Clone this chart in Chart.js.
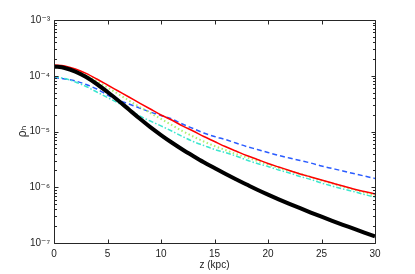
<!DOCTYPE html>
<html><head><meta charset="utf-8">
<script src="https://cdn.jsdelivr.net/npm/chart.js@4/dist/chart.umd.min.js"></script>
<style>html,body{margin:0;padding:0;background:#fff;}#wrap{width:415px;height:274px;}</style>
</head><body><div id="wrap"><canvas id="c" width="415" height="274"></canvas></div>
<script>
const zValues = [0,1,2,3,4,5,6,7,8,9,10,11,12,13,14,15,16,17,18,19,20,21,22,23,24,25,26,27,28,29,30];
const rhoBlack = [1.47e-4,1.38e-4,1.19e-4,9.50e-5,7.11e-5,5.11e-5,3.60e-5,2.48e-5,1.71e-5,1.20e-5,8.65e-6,6.35e-6,4.76e-6,3.64e-6,2.81e-6,2.21e-6,1.74e-6,1.39e-6,1.12e-6,9.04e-7,7.38e-7,6.08e-7,5.05e-7,4.21e-7,3.52e-7,2.96e-7,2.50e-7,2.12e-7,1.81e-7,1.54e-7,1.32e-7];
const rhoRed = [1.56e-4,1.50e-4,1.32e-4,1.10e-4,8.74e-5,6.83e-5,5.33e-5,4.16e-5,3.24e-5,2.53e-5,1.98e-5,1.61e-5,1.26e-5,1.02e-5,8.13e-6,6.62e-6,5.38e-6,4.47e-6,3.71e-6,3.15e-6,2.67e-6,2.31e-6,2.00e-6,1.73e-6,1.53e-6,1.35e-6,1.19e-6,1.05e-6,9.30e-7,8.39e-7,7.57e-7];
const rhoBlue = [9.30e-5,8.74e-5,8.05e-5,6.97e-5,5.79e-5,4.52e-5,3.67e-5,3.11e-5,2.64e-5,2.24e-5,1.94e-5,1.68e-5,1.36e-5,1.13e-5,9.40e-6,8.13e-6,7.19e-6,6.22e-6,5.38e-6,4.76e-6,4.20e-6,3.71e-6,3.35e-6,3.02e-6,2.72e-6,2.40e-6,2.17e-6,1.96e-6,1.76e-6,1.59e-6,1.44e-6];
const rhoCyan = [9.69e-5,8.93e-5,7.73e-5,6.42e-5,5.11e-5,4.07e-5,3.24e-5,2.53e-5,1.90e-5,1.54e-5,1.26e-5,1.02e-5,8.13e-6,6.62e-6,5.61e-6,4.76e-6,4.20e-6,3.64e-6,3.08e-6,2.67e-6,2.36e-6,2.04e-6,1.80e-6,1.56e-6,1.38e-6,1.19e-6,1.05e-6,9.30e-7,8.39e-7,7.41e-7,6.69e-7];
const rhoGreen = [1.50e-4,1.44e-4,1.27e-4,1.03e-4,8.05e-5,6.15e-5,4.71e-5,3.60e-5,2.75e-5,2.15e-5,1.68e-5,1.31e-5,1.02e-5,8.13e-6,6.62e-6,5.50e-6,4.66e-6,3.95e-6,3.42e-6,2.96e-6,2.56e-6,2.21e-6,1.96e-6,1.73e-6,1.53e-6,1.32e-6,1.17e-6,1.03e-6,9.11e-7,8.05e-7,7.11e-7];
const xTickValues = [0,5,10,15,20,25,30];
const yTickLabels = {"-7":"10\u207B\u2077","-6":"10\u207B\u2076","-5":"10\u207B\u2075","-4":"10\u207B\u2074","-3":"10\u207B\u00B3"};

function pts(arr){ return zValues.map((z,i)=>({x:z,y:arr[i]})); }

const FONT = "'Liberation Sans', 'DejaVu Sans', Arial, sans-serif";

const boxTicks = {
  id:'boxTicks',
  afterDraw(chart){
    const ctx = chart.ctx, a = chart.chartArea;
    const xs = chart.scales.x, ys = chart.scales.y;
    ctx.save();
    ctx.strokeStyle = '#262626';
    ctx.lineWidth = 1;
    const L = Math.round(a.left)+0.5, R = Math.round(a.right)+0.5, T = Math.round(a.top)+0.5, B = Math.round(a.bottom)+0.5;
    ctx.beginPath();
    ctx.rect(L, T, R-L, B-T);
    for (const v of xTickValues){
      const px = Math.round(xs.getPixelForValue(v))+0.5;
      ctx.moveTo(px,B); ctx.lineTo(px,B-4);
      ctx.moveTo(px,T); ctx.lineTo(px,T+4);
    }
    for (let e=-7; e<=-3; e++){
      for (let m=1; m<=9; m++){
        const v = m*Math.pow(10,e);
        if (v>1.0001e-3) break;
        const py = Math.round(ys.getPixelForValue(v))+0.5;
        const len = m===1?4:2.5;
        ctx.moveTo(L,py); ctx.lineTo(L+len,py);
        ctx.moveTo(R,py); ctx.lineTo(R-len,py);
      }
    }
    ctx.stroke();
    ctx.restore();
  }
};

new Chart(document.getElementById('c'), {
  type:'line',
  data:{ datasets:[
    {label:'black', data:pts(rhoBlack), borderColor:'#000000', borderWidth:4, order:0},
    {label:'red', data:pts(rhoRed), borderColor:'#ff0000', borderWidth:1.5, order:1},
    {label:'green', data:pts(rhoGreen), borderColor:'#aef070', borderWidth:2, borderDash:[1.5,2.5], order:2},
    {label:'cyan', data:pts(rhoCyan), borderColor:'#3de6cf', borderWidth:1.5, borderDash:[5,2,1.5,2], order:3},
    {label:'blue', data:pts(rhoBlue), borderColor:'#2a5cff', borderWidth:1.5, borderDash:[5,3], order:4}
  ]},
  options:{
    responsive:false, animation:false, devicePixelRatio:1,
    elements:{ point:{radius:0}, line:{cubicInterpolationMode:'monotone', fill:false} },
    layout:{ padding:{left:0, right:40, top:20, bottom:0} },
    plugins:{ legend:{display:false}, tooltip:{enabled:false} },
    scales:{
      x:{ type:'linear', min:0, max:30,
        grid:{display:false, drawTicks:false}, border:{display:false},
        ticks:{ stepSize:5, padding:5, color:'#222', font:{family:FONT, size:10}, maxRotation:0,
          callback:(v)=> xTickValues.includes(v) ? String(v) : '' },
        title:{ display:true, text:'z (kpc)', color:'#222', font:{family:FONT, size:10}, padding:{top:0,bottom:3} },
        afterFit:(s)=>{ s.height = 31; }
      },
      y:{ type:'logarithmic', min:1e-7, max:1e-3,
        grid:{display:false, drawTicks:false}, border:{display:false},
        ticks:{ padding:4, color:'#222', font:{family:FONT, size:10}, autoSkip:false,
          callback:(v)=>{ const e = Math.log10(v); const r = Math.round(e); return Math.abs(e-r)<1e-6 ? (yTickLabels[String(r)]||'') : ''; } },
        title:{ display:true, text:'\u03C1\u2095', color:'#222', font:{family:FONT, size:12}, padding:{top:15,bottom:0} },
        afterFit:(s)=>{ s.width = 54; }
      }
    }
  },
  plugins:[boxTicks]
});
</script></body></html>
